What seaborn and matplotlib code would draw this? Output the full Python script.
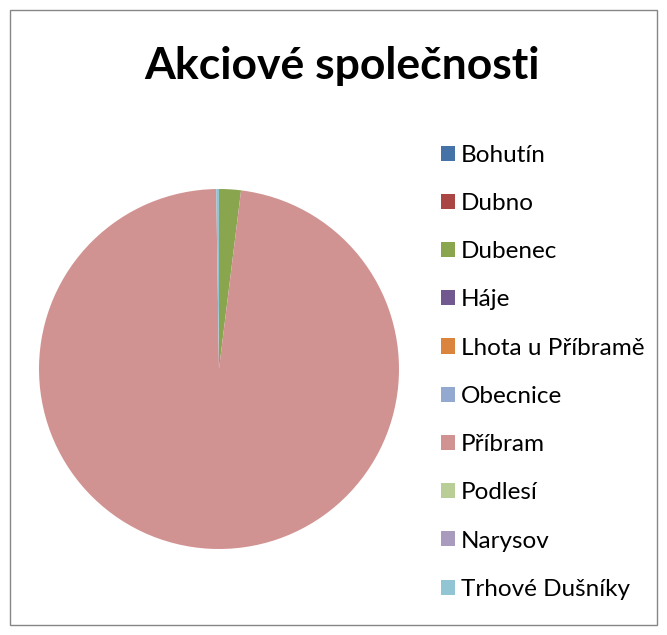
import matplotlib
matplotlib.use("Agg")
import matplotlib.pyplot as plt
import seaborn as sns
from matplotlib.patches import Rectangle, Patch

sns.set_theme(style="white")
plt.rcParams['font.family'] = ['Lato', 'DejaVu Sans']
plt.rcParams['text.color'] = 'black'

categories = ["Bohutín", "Dubno", "Dubenec", "Háje", "Lhota u Příbramě",
              "Obecnice", "Příbram", "Podlesí", "Narysov", "Trhové Dušníky"]
values = [0, 0, 2, 0, 0, 0, 100, 0, 0, 0.25]
colors = ["#4572A7", "#AA4643", "#89A54E", "#71588F", "#DB843D",
          "#93A9CF", "#D19392", "#B9CD96", "#A99BBD", "#92C5D4"]
title = "Akciové společnosti"

fig = plt.figure(figsize=(6.67, 6.35), dpi=100)
fig.patch.set_facecolor("white")
fig.patches.append(Rectangle((10/667, 10/635), 647/667, 615/635, transform=fig.transFigure,
                             fill=False, edgecolor="#868686", linewidth=1))

ax = fig.add_axes([39/667, 1 - 549/635, 360/667, 360/635])
ax.pie(values, colors=colors, startangle=90, counterclock=False,
       wedgeprops=dict(linewidth=0), radius=1)
ax.set_xlim(-1, 1); ax.set_ylim(-1, 1)
ax.set_aspect("equal")
ax.axis("off")

fig.text(342/667, 1 - 66/635, title, ha="center", va="center",
         fontsize=32, fontweight="bold", color="black")

handles = [Patch(facecolor=c, edgecolor="none") for c in colors]
fig.legend(handles, categories, loc="upper left",
           bbox_to_anchor=(431/667, 1 - 135/635), frameon=False,
           fontsize=17.5, handlelength=0.58, handleheight=0.58,
           labelspacing=1.12, handletextpad=0.25, borderaxespad=0,
           labelcolor="black")

fig.savefig("out.png", dpi=100)
